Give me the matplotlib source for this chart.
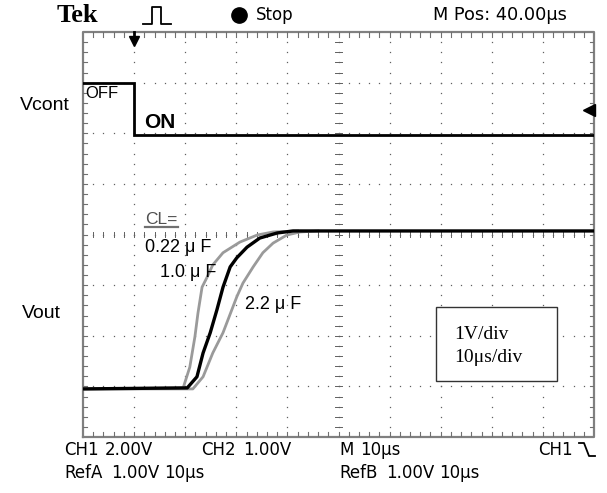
import matplotlib
matplotlib.use("Agg")
import matplotlib.pyplot as plt
from matplotlib.lines import Line2D
import numpy as np

# time axis: 10 us/div, 10 divisions
T_MAX = 100.0
N_YDIV = 8

# Vcont (CH1, 2 V/div), trace offset in divisions
vcont_t = [0.0, 10.0, 10.0, 100.0]
vcont_v = [2.06, 2.06, 0.0, 0.0]
VCONT_SCALE = 2.0
VCONT_OFFSET = 5.97

# Vout (1 V/div) for three load capacitors
VOUT_OFFSET = 0.95
t_022 = [0.0, 19.6, 20.9, 21.9, 22.5, 23.3, 24.3, 25.4, 27.4, 30.7, 34.1, 37.2, 42.0]
v_022 = [0.0, 0.02, 0.43, 1.03, 1.50, 2.01, 2.21, 2.45, 2.69, 2.90, 3.04, 3.10, 3.12]
t_10 = [0.0, 20.4, 22.3, 23.5, 24.9, 26.2, 27.4, 28.8, 30.1, 32.1, 34.6, 38.0, 41.1, 100.0]
v_10 = [0.0, 0.02, 0.24, 0.71, 1.11, 1.56, 2.01, 2.41, 2.59, 2.80, 2.98, 3.08, 3.12, 3.12]
t_22 = [0.0, 21.5, 23.5, 25.4, 27.4, 30.1, 31.3, 33.3, 35.2, 37.2, 39.9, 42.5, 46.0]
v_22 = [0.0, 0.0, 0.24, 0.71, 1.11, 1.82, 2.09, 2.41, 2.69, 2.88, 3.04, 3.10, 3.12]

W, H = 607, 493
fig = plt.figure(figsize=(W / 100, H / 100), dpi=100)
fig.patch.set_facecolor("white")
ax = fig.add_axes([83 / W, (H - 437) / H, 511 / W, 405 / H])
ax.set_xlim(0, T_MAX)
ax.set_ylim(0, N_YDIV)
ax.axis("off")

DOT = "#606060"
# dotted graticule
for gx in np.arange(10, 100, 10):
    ys = np.arange(0.2, N_YDIV, 0.2)
    ax.plot(np.full_like(ys, gx), ys, ls="none", marker="s", ms=0.9, color=DOT, mew=0)
for gy in range(1, N_YDIV):
    xs = np.arange(2, 100, 2)
    ax.plot(xs, np.full_like(xs, gy, dtype=float), ls="none", marker="s", ms=0.9, color=DOT, mew=0)

# ticks on center lines
for tx in np.arange(2, 100, 2):
    ax.plot([tx, tx], [N_YDIV / 2 - 0.05, N_YDIV / 2 + 0.05], color=DOT, lw=0.7)
for ty in np.arange(0.2, N_YDIV, 0.2):
    ax.plot([49.4, 50.6], [ty, ty], color=DOT, lw=0.7)

# frame with ticks
ax.plot([0, 100, 100, 0, 0], [0, 0, 8, 8, 0], color="#808080", lw=1.6, clip_on=False)
for tx in np.arange(2, 100, 2):
    ax.plot([tx, tx], [8, 7.9], color="#707070", lw=0.8)
    ax.plot([tx, tx], [0, 0.1], color="#707070", lw=0.8)
for ty in np.arange(0.2, N_YDIV, 0.2):
    ax.plot([0, 0.8], [ty, ty], color="#707070", lw=0.8)
    ax.plot([100, 99.2], [ty, ty], color="#707070", lw=0.8)

# traces
vc = np.array(vcont_v) / VCONT_SCALE + VCONT_OFFSET
ax.plot(vcont_t, vc, color="black", lw=2.0, solid_joinstyle="miter")
ax.plot(t_022, np.array(v_022) + VOUT_OFFSET, color="#9a9a9a", lw=2.0)
ax.plot(t_22, np.array(v_22) + VOUT_OFFSET, color="#9a9a9a", lw=2.0)
ax.plot(t_10, np.array(v_10) + VOUT_OFFSET, color="black", lw=2.4)

# trigger markers
ax.plot([10], [7.82], marker="v", ms=7, color="black", clip_on=False)
ax.plot([10, 10], [7.82, 8.0], color="black", lw=2, clip_on=False)
ax.plot([99.1], [6.45], marker="<", ms=8, color="black", clip_on=False)

# annotations inside the screen
lab = "Liberation Sans"
ax.text(0.4, 6.78, "OFF", fontsize=12, family=lab, va="center", ha="left")
ax.text(12.0, 6.22, "ON", fontsize=15, family=lab, weight="bold", va="center", ha="left")
ax.text(12.1, 4.29, "CL=", fontsize=12.5, family=lab, va="center", ha="left", color="#505050")
ax.plot([12.1, 18.6], [4.14, 4.14], color="#707070", lw=1.6)
ax.text(12.1, 3.75, "0.22 μ F", fontsize=13, family=lab, va="center", ha="left")
ax.text(15.1, 3.24, "1.0 μ F", fontsize=13, family=lab, va="center", ha="left")
ax.text(31.7, 2.61, "2.2 μ F", fontsize=13, family=lab, va="center", ha="left")
ax.add_patch(plt.Rectangle((69.1, 1.11), 23.6, 1.46, fc="white", ec="#333333", lw=1.0, zorder=3))
ax.text(72.6, 2.03, "1V/div", fontsize=14, family="Liberation Serif", va="center", ha="left", zorder=4)
ax.text(72.6, 1.57, "10μs/div", fontsize=14, family="Liberation Serif", va="center", ha="left", zorder=4)

# side labels
fig.text(20 / W, 1 - 106 / H, "Vcont", fontsize=14, family=lab, va="center", ha="left")
fig.text(22 / W, 1 - 313 / H, "Vout", fontsize=14, family=lab, va="center", ha="left")

# header
scope = "DejaVu Sans"
fig.text(57 / W, 1 - 15 / H, "Tek", fontsize=19, family="Liberation Serif", weight="bold", va="center")
fig.add_artist(Line2D(np.array([143, 152, 152, 161, 161, 171]) / W,
                      1 - np.array([24, 24, 7, 7, 24, 24]) / H, color="black", lw=1.3))
fig.add_artist(Line2D([239 / W], [1 - 15 / H], marker="o", ms=11, color="black"))
fig.text(256 / W, 1 - 15 / H, "Stop", fontsize=12, family=scope, va="center")
fig.text(433 / W, 1 - 15 / H, "M Pos: 40.00μs", fontsize=12.8, family=scope, va="center")

# footer: (x pixel, text) per word
row1 = [(64, "CH1"), (105, "2.00V"), (201, "CH2"), (243, "1.00V"), (339, "M"), (360, "10μs"), (538, "CH1")]
row2 = [(64, "RefA"), (111, "1.00V"), (164, "10μs"), (339, "RefB"), (386, "1.00V"), (439, "10μs")]
for px, s in row1:
    fig.text(px / W, 1 - 450 / H, s, fontsize=12, family=scope, va="center")
for px, s in row2:
    fig.text(px / W, 1 - 473 / H, s, fontsize=12, family=scope, va="center")
fig.add_artist(Line2D(np.array([579, 584, 589, 595]) / W,
                      1 - np.array([443, 443, 456, 456]) / H, color="black", lw=1.3))

fig.savefig("out.png", dpi=100, facecolor="white")
